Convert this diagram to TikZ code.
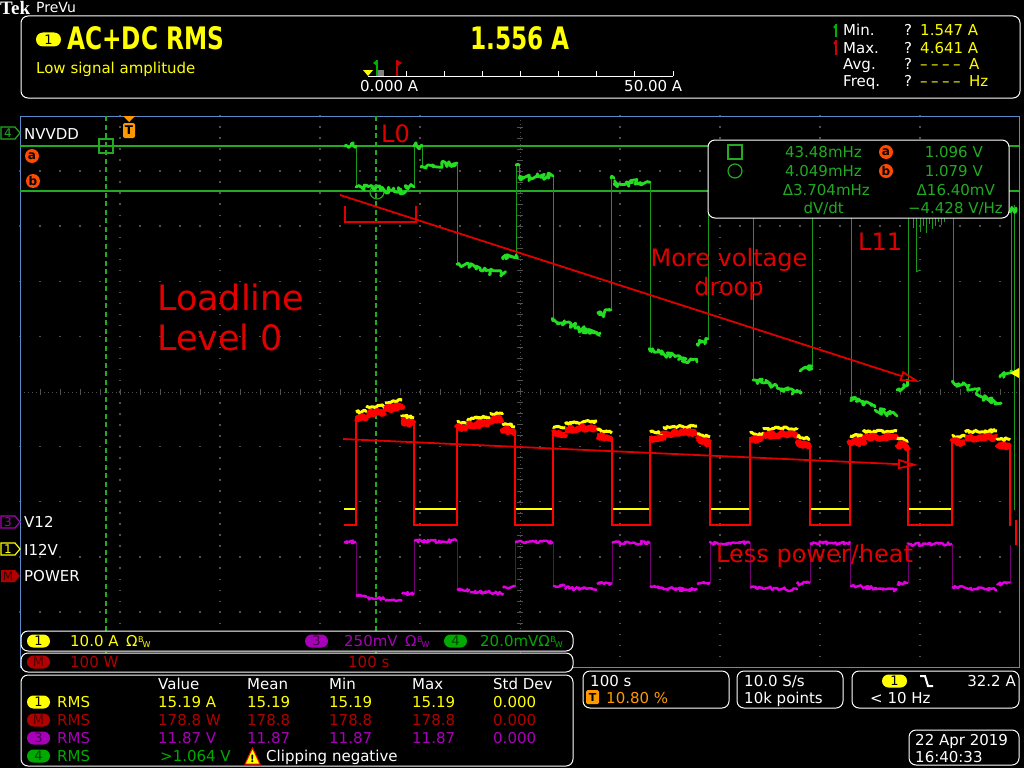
\documentclass[tikz,border=0pt]{standalone}
\usepackage{fontspec}
\setmainfont{DejaVu Sans}
\newfontfamily\bigfont[FakeStretch=0.75]{DejaVu Sans Bold}
\newfontfamily\tekfont{Liberation Serif}
\usetikzlibrary{decorations.pathmorphing,arrows.meta}
\definecolor{scyel}{HTML}{FFFF00}
\definecolor{grn}{HTML}{22DD22}
\definecolor{grnedge}{HTML}{1A9A1A}
\definecolor{curgrn}{HTML}{22AA22}
\definecolor{txgrn}{HTML}{00AA00}
\definecolor{mag}{HTML}{E000E0}
\definecolor{magedge}{HTML}{700070}
\definecolor{magtx}{HTML}{A800B8}
\definecolor{dred}{HTML}{B00000}
\definecolor{annred}{HTML}{E00000}
\definecolor{tred}{HTML}{FF0000}
\definecolor{orng}{HTML}{FF9900}
\definecolor{abor}{HTML}{FF4A00}
\definecolor{gratblue}{HTML}{5A8AC8}
\definecolor{griddot}{HTML}{505050}
\newcommand\obwsym{Ω\kern0.5pt{\fontsize{8}{8}\selectfont\raisebox{3.5pt}{B}\kern-1pt\raisebox{-1pt}{W}}}
\newcommand\dashfour{–\kern3.5pt–\kern3.5pt–\kern3.5pt–}
\begin{document}
\begin{tikzpicture}[x=1pt,y=-1pt,
  txt/.style={inner sep=0pt, anchor=base west, text=white, font=\fontsize{15}{18}\selectfont},
  rtxt/.style={txt, anchor=base east},
  sbox/.style={draw=white, line width=1pt, rounded corners=7pt},
  badge/.style={inner sep=0pt, minimum width=23pt, minimum height=13pt, rounded corners=6.5pt, font=\fontsize{13}{13}\selectfont, text=black},
  abdg/.style={circle, fill=abor, inner sep=0pt, minimum size=14pt, font=\bfseries\fontsize{12}{12}\selectfont, text=black},
  ann/.style={inner sep=0pt, text=annred},
  annline/.style={draw=annred, line width=1.8pt},
  gnoise/.style={draw=grn, line width=2.8pt, line join=round, line cap=round, decorate, decoration={random steps, segment length=1.5pt, amplitude=3.2pt}},
  ynoise/.style={draw=scyel, line width=3pt, line join=round, decorate, decoration={random steps, segment length=1.5pt, amplitude=1.5pt}},
  rnoise/.style={draw=tred, line width=6pt, line join=round, decorate, decoration={random steps, segment length=1.5pt, amplitude=2.2pt}},
  mnoise/.style={draw=mag, line width=2.4pt, line join=round, decorate, decoration={random steps, segment length=1.5pt, amplitude=1.7pt}},
  gedge/.style={draw=grnedge, line width=1pt},
  redge/.style={draw=tred, line width=1.2pt},
  medge/.style={draw=magedge, line width=1pt},
  cursline/.style={curgrn, line width=1.3pt, dash pattern=on 5pt off 3.5pt}
]
\pgfmathsetseed{7}
% background
\fill[black] (0,0) rectangle (1024,768);
\useasboundingbox (0,0) rectangle (1024,768);

% ---------- grid ----------
\foreach \i in {1,2,3,4,6,7,8,9} {
  \draw[griddot, line width=1.5pt, dash pattern=on 1.5pt off 9.53pt] (20+100*\i,115.25) -- (20+100*\i,667);
  \draw[griddot, line width=1.5pt, dash pattern=on 1.5pt off 18.5pt] (19.25,116+55.1*\i) -- (1019,116+55.1*\i);
}
\draw[griddot, line width=1pt, dash pattern=on 1pt off 3pt] (20,392) -- (1019,392);
\draw[griddot, line width=1pt, dash pattern=on 1pt off 3pt] (520,116) -- (520,667);
\foreach \k in {1,...,49} {
  \draw[griddot, line width=1pt] (20+20*\k,389) -- (20+20*\k,395);
  \draw[griddot, line width=1pt] (517,116+11.03*\k) -- (523,116+11.03*\k);
}
\draw[gratblue, line width=1pt] (20,116) rectangle (1019,667);

% ---------- cursors ----------
\draw[curgrn, line width=1.2pt] (20,146) -- (1019,146);
\draw[curgrn, line width=1.2pt] (20,191) -- (1019,191);
\draw[cursline] (106,116) -- (106,667);
\draw[cursline] (376,116) -- (376,667);
\draw[curgrn, line width=1.2pt] (99,139) rectangle (113,153);
\draw[curgrn, line width=1.2pt] (377,192) circle (7);

% ---------- green trace (ch4) ----------
\foreach \x/\ya/\yb in {356/146/187,414/188/146,422/146/166,457/163/264,516/255/165,519/165/178,
  553/176/321,611/310/178,614/178/184,650/182/351,708/339/190,753/190/380,812/366/190,
  851/190/398,908/382/190,953/200/382,1011/371/210,1014/205/510}
  \draw[gedge] (\x,\ya) -- (\x,\yb);
\foreach \a/\b/\c/\d in {345/146/356/146,356/187/380/189,380/190/406/191,406/188/414/187,
  414/146/422/146,422/166/457/163,457/264/480/268,480/270/503/274,503/259/516/255,
  516/165/519/165,519/178/553/176,553/321/575/326,575/328/600/333,600/315/611/310,
  611/178/614/178,614/184/650/182,650/351/675/356,675/357/697/362,697/344/708/339,
  753/380/777/386,777/388/800/393,800/371/812/366,851/398/875/407,875/410/897/416,
  897/390/908/382,953/382/977/391,977/395/1000/403,1000/377/1011/371,1010/212/1016/208}
  \draw[gnoise] (\a,\b) -- (\c,\d);
\foreach \x/\y in {913/228,916/272,920/232,923/226,926/233,929/224,932/229,935/226,938/222,941/225,944/222}
  \draw[gedge] (\x,214) -- (\x,\y);
\draw[gedge] (916,272) -- (920,270);

% ---------- current (yellow) and power (red) ----------
\foreach \a/\b in {344/356,414/457,515/553,612/650,710/750,810/850,908/952} {
  \draw[draw=scyel, line width=2.5pt] (\a,509) -- (\b,509);
  \draw[draw=tred, line width=2.5pt] (\a,525) -- (\b,525);
}
\foreach \x/\y in {356/416,414/422,457/426,515/431,553/431,612/437,650/436,710/441,750/437,
  810/443,850/440,908/445,952/440,1010/444}
  \draw[redge] (\x,526) -- (\x,\y);
\draw[redge] (1016,520) -- (1016,545);
\foreach \a/\b/\c/\d in {356/416/367/415,367/412/385/410,385/407/402/404,402/419/414/422,
  457/426/467/427,467/423/490/421,490/418/503/417,503/427/515/431,
  553/431/565/432,565/428/597/425,597/434/612/437,
  650/436/663/437,663/432/697/430,697/438/710/441,
  750/437/763/438,763/433/797/432,797/440/810/443,
  850/440/863/440,863/436/897/435,897/442/908/445,
  952/440/965/440,965/436/997/435,997/442/1010/444} {
  \draw[ynoise] (\a,\b-4) -- (\c,\d-4);
  \draw[rnoise] (\a,\b+2) -- (\c,\d+2);
}

% ---------- V12 (magenta) ----------
\foreach \x/\ya/\yb in {356/542/596,414/593/541,457/541/590,515/587/542,553/542/586,612/583/543,
  650/543/586,710/583/543,750/543/587,810/583/543,850/543/586,908/583/544,952/544/587,1010/583/545}
  \draw[medge] (\x,\ya) -- (\x,\yb);
\foreach \a/\b/\c/\d in {344/542/356/542,356/596/367/596,367/598/385/599,385/601/402/601,402/594/414/593,
  414/541/457/541,457/590/470/590,470/592/503/593,503/588/515/587,515/542/553/542,
  553/586/565/586,565/588/597/590,597/584/612/583,612/543/650/543,
  650/586/663/587,663/588/697/590,697/584/710/583,710/543/750/543,
  750/587/797/590,797/584/810/583,810/543/850/543,850/586/897/590,897/584/908/583,
  908/544/952/544,952/587/997/590,997/584/1010/583}
  \draw[mnoise] (\a,\b) -- (\c,\d);

% right-edge ch1 marker
\fill[scyel] (1010,373) -- (1019,368) -- (1019,378) -- cycle;

% ---------- annotations ----------
\coordinate (br1) at (345,206);
\coordinate (br2) at (345,222);
\coordinate (br3) at (416,222);
\coordinate (br4) at (416,206);
\draw[annline] (br1) -- (br2) -- (br3) -- (br4);
\coordinate (d1s) at (340,195);
\coordinate (d1e) at (920,382);
\draw[annline, -{Triangle[open, length=20pt, width=10pt, line width=1.8pt]}] (d1s) -- (d1e);
\coordinate (d2s) at (343,439);
\coordinate (d2e) at (918,465);
\draw[annline, -{Triangle[open, length=20pt, width=10pt, line width=1.8pt]}] (d2s) -- (d2e);
\node[ann, anchor=base west, font=\fontsize{24}{24}\selectfont] (l0) at (381,142) {L0};
\node[ann, anchor=base west, font=\fontsize{35}{35}\selectfont] (ll1) at (157,310) {Loadline};
\node[ann, anchor=base west, font=\fontsize{35}{35}\selectfont] (ll2) at (157,350) {Level 0};
\node[ann, anchor=base, font=\fontsize{24}{24}\selectfont] (mv1) at (729,266) {More voltage};
\node[ann, anchor=base, font=\fontsize{24}{24}\selectfont] (mv2) at (729,295) {droop};
\node[ann, anchor=base west, font=\fontsize{24}{24}\selectfont] (l11) at (858,250) {L11};
\node[ann, anchor=base west, font=\fontsize{24}{24}\selectfont] (lph) at (716,562) {Less power/heat};

% ---------- cursor readout box ----------
\draw[sbox, fill=black] (708,140) rectangle (1009,218);
\draw[curgrn, line width=1.2pt] (728,145) rectangle (742,159);
\draw[curgrn, line width=1.2pt] (735,171) circle (7);
\node[rtxt, text=curgrn] (c1) at (862,157) {43.48mHz};
\node[abdg] (ca) at (886,152) {a};
\node[rtxt, text=curgrn] (c2) at (983,157) {1.096 V};
\node[rtxt, text=curgrn] (c3) at (862,176) {4.049mHz};
\node[abdg] (cb) at (886,171) {b};
\node[rtxt, text=curgrn] (c4) at (983,176) {1.079 V};
\node[rtxt, text=curgrn] (c5) at (870,195) {Δ3.704mHz};
\node[rtxt, text=curgrn] (c6) at (995,195) {Δ16.40mV};
\node[rtxt, text=curgrn] (c7) at (844,213) {dV/dt};
\node[rtxt, text=curgrn] (c8) at (1003,213) {−4.428 V/Hz};

% ---------- left channel labels ----------
\draw[curgrn, line width=1.2pt, fill=black] (1,127) -- (15,127) -- (20,133) -- (15,139) -- (1,139) -- cycle;
\node[inner sep=0, text=curgrn, font=\fontsize{12}{12}\selectfont] (tag4) at (8,133) {4};
\node[txt] (nvvdd) at (24,139) {NVVDD};
\node[abdg] (la) at (32,156) {a};
\node[abdg] (lb) at (33,181) {b};
\draw[magtx, line width=1.2pt, fill=black] (1,516) -- (15,516) -- (20,522) -- (15,528) -- (1,528) -- cycle;
\node[inner sep=0, text=magtx, font=\fontsize{12}{12}\selectfont] (tag3) at (8,522) {3};
\node[txt] (v12) at (24,527) {V12};
\draw[scyel, line width=1.2pt, fill=black] (1,543) -- (15,543) -- (20,549) -- (15,555) -- (1,555) -- cycle;
\node[inner sep=0, text=scyel, font=\fontsize{12}{12}\selectfont] (tag1) at (8,549) {1};
\node[txt] (i12v) at (24,555) {I12V};
\fill[dred] (1,570) -- (15,570) -- (20,576) -- (15,582) -- (1,582) -- cycle;
\node[inner sep=0, text=black!70!dred, font=\fontsize{12}{12}\selectfont] (tagm) at (8,576) {M};
\node[txt] (power) at (24,581) {POWER};
% trigger marker
\fill[orng] (123,116) -- (135,116) -- (129,122) -- cycle;
\fill[orng, rounded corners=2pt] (123,123) rectangle (135,138);
\node[inner sep=0, text=black, font=\bfseries\fontsize{12}{12}\selectfont] (trig) at (129,130.5) {T};

% ---------- header ----------
\node[inner sep=0pt, anchor=base west, text=white, font=\tekfont\bfseries\fontsize{19}{19}\selectfont] (tek) at (0,15) {Tek};
\node[txt, font=\fontsize{14}{14}\selectfont] (prevu) at (36,13) {PreVu};
\draw[sbox] (21,16) rectangle (1020,98);
\node[badge, fill=scyel, minimum width=25pt, minimum height=14pt, rounded corners=7pt] (hb1) at (48.5,39.5) {1};
\node[txt, text=scyel, font=\bigfont\fontsize{31}{31}\selectfont] (hdr) at (67,49) {AC+DC RMS};
\node[txt, text=scyel] (low) at (36,73) {Low signal amplitude};
\node[txt, text=scyel, font=\bigfont\fontsize{31}{31}\selectfont] (hval) at (470,49) {1.556 A};
\draw[white, line width=1pt] (368,76) -- (673,76);
\foreach \k in {1,...,8} \draw[white, line width=1pt] (368+38.125*\k,71) -- (368+38.125*\k,76);
\fill[scyel] (363,70) -- (373,70) -- (368,76) -- cycle;
\fill[gray] (378,70) rectangle (384,76);
\draw[green!70!black, line width=1.2pt] (377,60) -- (377,76);
\fill[green!70!black] (377,60) -- (373,63) -- (377,66) -- cycle;
\draw[red!80!black, line width=1.2pt] (397,60) -- (397,76);
\fill[red!80!black] (397,60) -- (402,63) -- (397,66) -- cycle;
\node[txt] (s0) at (360,91) {0.000 A};
\node[txt] (s50) at (624,91) {50.00 A};
\draw[green!70!black, line width=1.2pt] (836,24) -- (836,37);
\fill[green!70!black] (836,24) -- (833,27) -- (836,30) -- cycle;
\draw[red!80!black, line width=1.2pt] (836,40) -- (836,55);
\fill[red!80!black] (836,40) -- (833,43) -- (836,46) -- cycle;
\node[txt] (hmin) at (843,36) {Min.};
\node[txt] (hmax) at (843,53) {Max.};
\node[txt] (havg) at (843,69) {Avg.};
\node[txt] (hfrq) at (843,86) {Freq.};
\node[txt] (q1) at (904,36) {?};
\node[txt] (q2) at (904,53) {?};
\node[txt] (q3) at (904,69) {?};
\node[txt] (q4) at (904,86) {?};
\node[txt, text=scyel] (v1) at (920,36) {1.547 A};
\node[txt, text=scyel] (v2) at (920,53) {4.641 A};
\node[txt, text=scyel] (v3) at (920,69) {\dashfour};
\node[txt, text=scyel] (v3u) at (969,69) {A};
\node[txt, text=scyel] (v4) at (920,86) {\dashfour};
\node[txt, text=scyel] (v4u) at (969,86) {Hz};

% ---------- bottom boxes ----------
\draw[sbox, fill=black] (21,631) rectangle (573,651);
\draw[sbox, fill=black] (21,653) rectangle (573,672);
\draw[sbox, fill=black] (21,675) rectangle (573,766);
\draw[sbox] (583,671) rectangle (729,708);
\draw[sbox] (737,671) rectangle (843,708);
\draw[sbox] (852,671) rectangle (1019,708);
\draw[sbox] (909,730) rectangle (1019,765);

\node[badge, fill=scyel] (b1) at (38.5,641) {1};
\node[txt, text=scyel] (b1t) at (70,646) {10.0 A\hspace{0.5em}\obwsym};
\node[badge, fill=magtx, text=black!60!magtx] (b3) at (316.5,641) {3};
\node[txt, text=magtx] (b3t) at (344,646) {250mV\hspace{0.5em}\obwsym};
\node[badge, fill=txgrn, text=black!60!txgrn] (b4) at (455.5,641) {4};
\node[txt, text=txgrn] (b4t) at (480,646) {20.0mV\obwsym};
\node[badge, fill=dred, text=black!55!dred] (bm) at (38.5,662) {M};
\node[txt, text=dred] (bmt) at (70,667) {100 W};
\node[txt, text=dred] (bms) at (348,667) {100 s};

% table
\node[txt] (hv) at (158,689) {Value};
\node[txt] (hme) at (247,689) {Mean};
\node[txt] (hmi) at (329,689) {Min};
\node[txt] (hma) at (412,689) {Max};
\node[txt] (hsd) at (493,689) {Std Dev};
\node[badge, fill=scyel] (r1b) at (38.5,702) {1};
\node[txt, text=scyel] (r1a) at (57,707) {RMS};
\node[txt, text=scyel] (r1c) at (158,707) {15.19 A};
\node[txt, text=scyel] (r1d) at (247,707) {15.19};
\node[txt, text=scyel] (r1e) at (329,707) {15.19};
\node[txt, text=scyel] (r1f) at (412,707) {15.19};
\node[txt, text=scyel] (r1g) at (493,707) {0.000};
\node[badge, fill=dred, text=black!55!dred] (r2b) at (38.5,720) {M};
\node[txt, text=dred] (r2a) at (57,725) {RMS};
\node[txt, text=dred] (r2c) at (158,725) {178.8 W};
\node[txt, text=dred] (r2d) at (247,725) {178.8};
\node[txt, text=dred] (r2e) at (329,725) {178.8};
\node[txt, text=dred] (r2f) at (412,725) {178.8};
\node[txt, text=dred] (r2g) at (493,725) {0.000};
\node[badge, fill=magtx, text=black!60!magtx] (r3b) at (38.5,738) {3};
\node[txt, text=magtx] (r3a) at (57,743) {RMS};
\node[txt, text=magtx] (r3c) at (158,743) {11.87 V};
\node[txt, text=magtx] (r3d) at (247,743) {11.87};
\node[txt, text=magtx] (r3e) at (329,743) {11.87};
\node[txt, text=magtx] (r3f) at (412,743) {11.87};
\node[txt, text=magtx] (r3g) at (493,743) {0.000};
\node[badge, fill=txgrn, text=black!60!txgrn] (r4b) at (38.5,756) {4};
\node[txt, text=txgrn] (r4a) at (57,761) {RMS};
\node[txt, text=txgrn] (r4c) at (160,761) {>1.064 V};
\filldraw[fill=scyel, draw=red, line width=1pt] (245,764) -- (252.5,748) -- (260,764) -- cycle;
\node[inner sep=0, text=black, font=\bfseries\fontsize{10}{10}\selectfont] (warn) at (252.5,758.5) {!};
\node[txt] (clip) at (266,761) {Clipping negative};

% right boxes
\node[txt] (hs) at (590,686) {100 s};
\fill[orng, rounded corners=1.5pt] (586,690) rectangle (599,704);
\node[inner sep=0, text=black, font=\bfseries\fontsize{11}{11}\selectfont] (tt) at (592.5,697) {T};
\node[txt, text=orng] (tpos) at (606,703) {10.80 \%};
\node[txt] (sr) at (744,686) {10.0 S/s};
\node[txt] (pts) at (744,703) {10k points};
\node[badge, fill=scyel, minimum width=25pt] (tb1) at (894.5,681) {1};
\draw[white, line width=2pt] (920,676) -- (925,676) -- (928,686) -- (933,686);
\node[rtxt] (tlvl) at (1016,686) {32.2 A};
\node[txt] (tfr) at (870,703) {< 10 Hz};
\node[txt] (date) at (915,745) {22 Apr 2019};
\node[txt] (time) at (915,762) {16:40:33};
\end{tikzpicture}
\end{document}
